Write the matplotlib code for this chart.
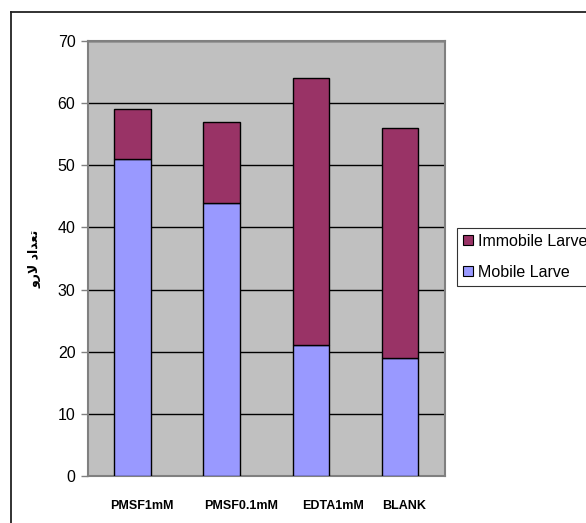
import matplotlib.pyplot as plt
import matplotlib.transforms as mtransforms
from matplotlib.lines import Line2D
from matplotlib.patches import Patch

# Data
treatments = ['PMSF1mM', 'PMSF0.1mM', 'EDTA1mM', 'BLANK']
mobile = [51, 44, 21, 19]
immobile = [8, 13, 43, 37]
y_ticks = [0, 10, 20, 30, 40, 50, 60, 70]

# Persian label "تعداد لارو", written in shaped (presentation) forms in display order
y_label = '\uFEED\uFEAD\uFEFB \uFEA9\uFE8D\uFEAA\uFECC\uFE97'

plt.rcParams['font.family'] = ['Liberation Sans', 'DejaVu Sans']

fig = plt.figure(figsize=(5.86, 5.23), dpi=100)
ax = fig.add_axes([0.150, 0.0899, 0.609, 0.8317])
ax.set_facecolor('#C0C0C0')

x = range(len(treatments))
ax.bar(x, mobile, width=0.41, color='#9999FF', edgecolor='black', linewidth=1, zorder=3)
ax.bar(x, immobile, width=0.41, bottom=mobile, color='#993366', edgecolor='black', linewidth=1, zorder=3)

ax.set_xlim(-0.5, len(treatments) - 0.5)
ax.set_ylim(0, 70)
ax.set_yticks(y_ticks)
ax.set_yticklabels([str(t) for t in y_ticks], fontsize=11.5)
ax.set_xticks(list(x))
ax.set_xticklabels(treatments, fontsize=9, fontweight='bold')
ax.tick_params(axis='x', length=0, pad=17)
ax.tick_params(axis='y', length=5, width=1, color='#808080', pad=4)

# category labels sit a little right of the bar centres (pixel shifts)
shifts = [9, 19.5, 22, 4]
for lbl, dx in zip(ax.get_xticklabels(), shifts):
    lbl.set_transform(lbl.get_transform() + mtransforms.ScaledTranslation(dx / 100, 0, fig.dpi_scale_trans))

# grid lines
ax.yaxis.grid(True, color='black', linewidth=1, zorder=1)
ax.set_axisbelow(True)
for side in ['top', 'right', 'bottom', 'left']:
    ax.spines[side].set_color('#808080')
    ax.spines[side].set_linewidth(1.5)

ax.set_ylabel(y_label, family=['DejaVu Sans'], fontsize=9, fontweight='bold')
ax.yaxis.set_label_coords(-0.13, 0.5)

handles = [Patch(facecolor='#993366', edgecolor='black', linewidth=0.8),
           Patch(facecolor='#9999FF', edgecolor='black', linewidth=0.8)]
leg = fig.legend(handles, ['Immobile Larve', 'Mobile Larve'],
                 loc='upper left', bbox_to_anchor=(0.78, 0.565),
                 fontsize=11.5, fancybox=False, frameon=True,
                 edgecolor='black', borderpad=0.4, labelspacing=1.0,
                 handlelength=0.6, handleheight=0.6, handletextpad=0.3,
                 borderaxespad=0)
leg.get_frame().set_linewidth(0.8)

# outer chart frame (left and top edges)
fig.add_artist(Line2D([11 / 586, 11 / 586], [0, 1 - 12 / 523], color='#222222', linewidth=1.3))
fig.add_artist(Line2D([11 / 586, 1], [1 - 12 / 523, 1 - 12 / 523], color='#222222', linewidth=1.3))

fig.savefig('out.png', dpi=100)
